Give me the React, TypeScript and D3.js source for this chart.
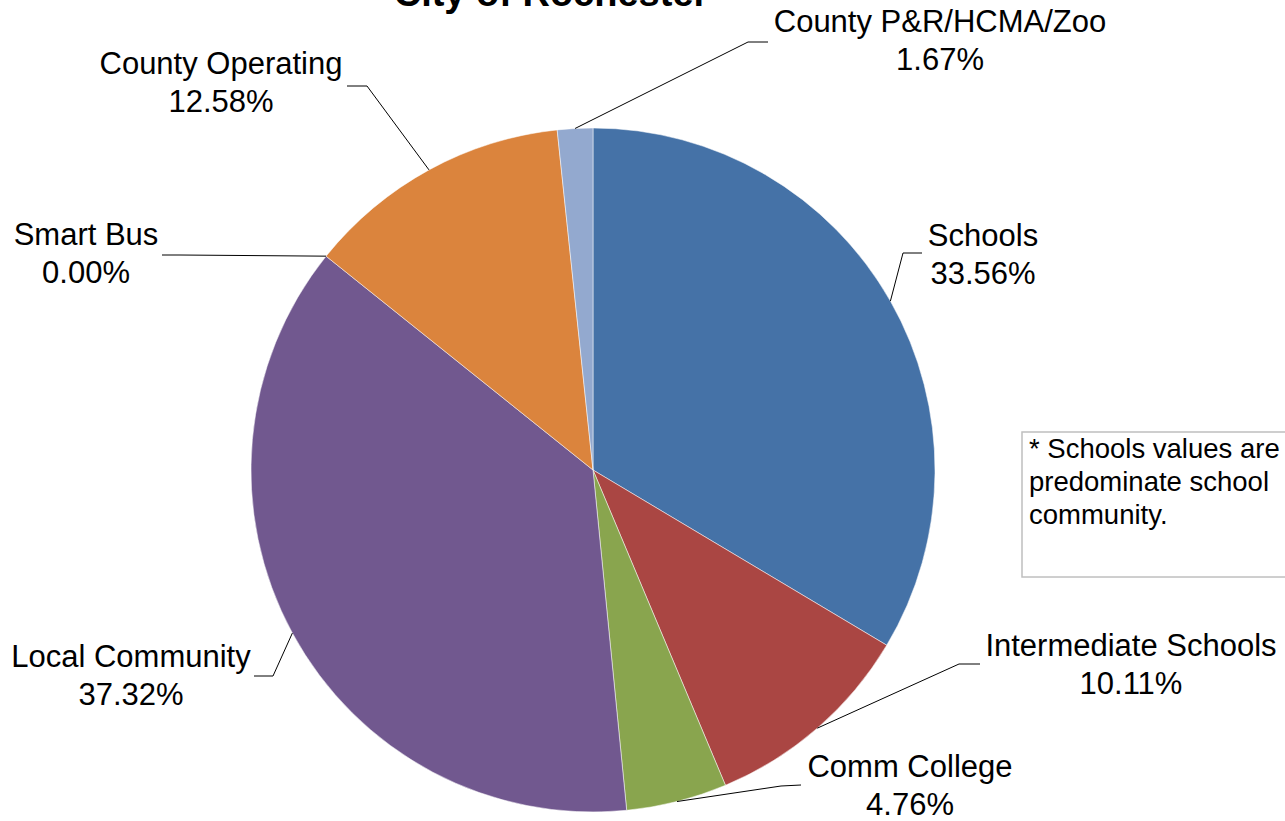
import React from "react";
import * as d3 from "d3";

const categories = [
  "Schools",
  "Intermediate Schools",
  "Comm College",
  "Local Community",
  "Smart Bus",
  "County Operating",
  "County P&R/HCMA/Zoo",
];
const values = [33.56, 10.11, 4.76, 37.32, 0.0, 12.58, 1.67];
const colors = ["#4572A7", "#AA4643", "#89A54E", "#71588F", "#4198AF", "#DB843D", "#93A9CF"];

const titleText = "City of Rochester";
const noteLines = ["* Schools values are", "predominate school", "community."];

// label layout: text center x, first baseline y, elbow point, end point
const labelLayout = [
  { tx: 983, ty: 246, elbow: [903, 253], end: [922, 253] },
  { tx: 1131, ty: 656, elbow: [959, 664], end: [980, 664] },
  { tx: 910, ty: 777, elbow: [781, 786], end: [801, 785] },
  { tx: 131, ty: 667, elbow: [273, 676], end: [254, 676] },
  { tx: 86, ty: 245, elbow: [180, 255], end: [162, 255] },
  { tx: 221, ty: 74, elbow: [367, 86], end: [347, 86] },
  { tx: 940, ty: 32, elbow: [748, 42], end: [768, 42] },
];

const W = 1285;
const H = 821;
const cx = 593;
const cy = 470;
const R = 342;

export default function App() {
  const pie = d3
    .pie<number>()
    .sort(null)
    .value((d) => d)
    .startAngle(0)
    .endAngle(2 * Math.PI);
  const arcs = pie(values);
  const arc = d3.arc<d3.PieArcDatum<number>>().innerRadius(0).outerRadius(R);
  const edge = d3.arc<d3.PieArcDatum<number>>().innerRadius(R).outerRadius(R);
  const font = "'Liberation Sans', Arial, sans-serif";

  return (
    <svg
      width={W}
      height={H}
      style={{ position: "absolute", left: 0, top: 0 }}
      fontFamily={font}
    >
      <rect x={0} y={0} width={W} height={H} fill="#fff" />
      <text x={551} y={6} textAnchor="middle" fontSize={38} fontWeight="bold" fill="#000">
        {titleText}
      </text>
      <g transform={`translate(${cx},${cy})`}>
        {arcs.map((a, i) =>
          values[i] > 0 ? (
            <path key={i} d={arc(a) || ""} fill={colors[i]} stroke="#fff" strokeWidth={0.5} />
          ) : null
        )}
      </g>
      {arcs.map((a, i) => {
        const [px, py] = edge.centroid(a);
        const L = labelLayout[i];
        const pts = [
          [cx + px, cy + py],
          L.elbow,
          L.end,
        ];
        return (
          <polyline
            key={"l" + i}
            points={pts.map((p) => p.join(",")).join(" ")}
            fill="none"
            stroke="#000"
            strokeWidth={1}
          />
        );
      })}
      {arcs.map((a, i) => {
        const L = labelLayout[i];
        return (
          <text key={"t" + i} textAnchor="middle" fontSize={31} fill="#000">
            <tspan x={L.tx} y={L.ty}>
              {categories[i]}
            </tspan>
            <tspan x={L.tx} y={L.ty + 38}>
              {values[i].toFixed(2) + "%"}
            </tspan>
          </text>
        );
      })}
      <rect x={1022} y={432} width={300} height={145} fill="#fff" stroke="#BFBFBF" strokeWidth={1.5} />
      {noteLines.map((t, i) => (
        <text key={"n" + i} x={1029} y={458 + i * 33} fontSize={27.5} fill="#000">
          {t}
        </text>
      ))}
    </svg>
  );
}
